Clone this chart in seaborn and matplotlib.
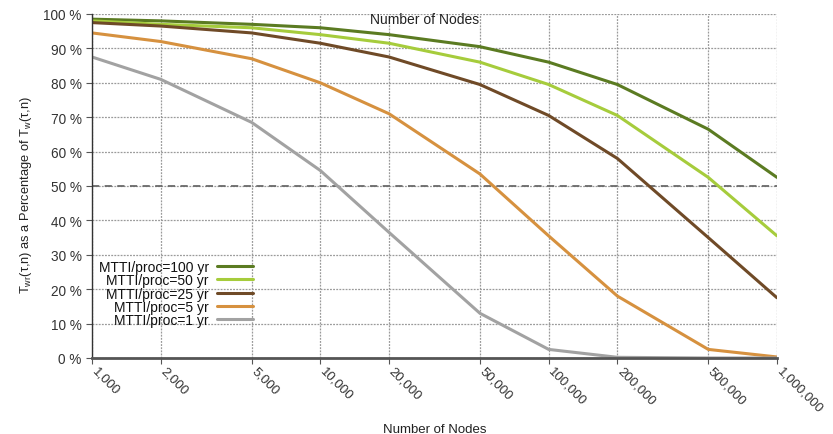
import matplotlib
matplotlib.use("Agg")
import matplotlib.pyplot as plt
import matplotlib.transforms as mtransforms
import seaborn as sns
import pandas as pd
import numpy as np
from matplotlib.ticker import FixedLocator, NullLocator

nodes = [1000, 2000, 5000, 10000, 20000, 50000, 100000, 200000, 500000, 1000000]
node_labels = ["1,000", "2,000", "5,000", "10,000", "20,000", "50,000",
               "100,000", "200,000", "500,000", "1,000,000"]
series_names = ["MTTI/proc=100 yr", "MTTI/proc=50 yr", "MTTI/proc=25 yr",
                "MTTI/proc=5 yr", "MTTI/proc=1 yr"]
mtti_100 = [98.5, 98.0, 97.0, 96.0, 94.0, 90.5, 86.0, 79.5, 66.5, 52.5]
mtti_50 = [98.0, 97.0, 96.0, 94.0, 91.5, 86.0, 79.5, 70.5, 52.5, 35.5]
mtti_25 = [97.5, 96.5, 94.5, 91.5, 87.5, 79.5, 70.5, 58.0, 35.0, 17.5]
mtti_5 = [94.5, 92.0, 87.0, 80.0, 71.0, 53.5, 35.5, 18.0, 2.5, 0.3]
mtti_1 = [87.5, 81.0, 68.5, 54.5, 36.5, 13.0, 2.5, 0.2, 0.0, 0.0]
y_ticks = [0, 10, 20, 30, 40, 50, 60, 70, 80, 90, 100]
y_tick_labels = ["%d %%" % v for v in y_ticks]

colors = ["#5b7b22", "#a6cc3c", "#6f4a27", "#d6913f", "#a2a2a2"]

rows = []
for name, vals in zip(series_names, [mtti_100, mtti_50, mtti_25, mtti_5, mtti_1]):
    for n, v in zip(nodes, vals):
        rows.append({"Nodes": n, "Pct": v, "Series": name})
df = pd.DataFrame(rows)

sns.set_style("white")
plt.rcParams["font.family"] = ["Liberation Sans", "DejaVu Sans"]

fig = plt.figure(figsize=(8.33, 4.35), dpi=100)
ax = fig.add_axes([92/833, 1-359/435, 685/833, 344/435])

sns.lineplot(data=df, x="Nodes", y="Pct", hue="Series", hue_order=series_names,
             palette=colors, linewidth=2.2, ax=ax, legend=True)

ax.set_xscale("log")
ax.set_xlim(1000, 1000000)
ax.set_ylim(0, 100)
ax.xaxis.set_major_locator(FixedLocator(nodes))
ax.xaxis.set_minor_locator(NullLocator())
ax.set_yticks(y_ticks)

ax.grid(True, which="major", linestyle=(0, (1.5, 1.0)), color="#9a9a9a", linewidth=0.9)
ax.set_axisbelow(True)
ax.axhline(50, color="#6a6a6a", linestyle=(0, (4, 3)), linewidth=1.3, zorder=1)

for s in ["top", "right"]:
    ax.spines[s].set_visible(False)
ax.spines["left"].set_color("#333333")
ax.spines["left"].set_linewidth(1.0)
ax.spines["bottom"].set_color("#555555")
ax.spines["bottom"].set_linewidth(2.0)
ax.tick_params(axis="both", which="major", direction="out", length=4, width=0.8,
               colors="#555555", left=True, bottom=True)
ax.tick_params(axis="both", labelcolor="#333333")

ax.set_xticklabels(node_labels, rotation=-45, ha="left", va="top",
                   rotation_mode="anchor", fontsize=9.5, color="#333333")
ax.set_yticklabels(y_tick_labels, fontsize=9.8, color="#333333")
offset = mtransforms.ScaledTranslation(6/100, 4/100, fig.dpi_scale_trans)
for lbl in ax.get_xticklabels():
    lbl.set_transform(lbl.get_transform() + offset)

ax.set_xlabel("Number of Nodes", fontsize=9.5, color="#222222")
ax.xaxis.set_label_coords(0.50, -0.188)
ax.set_ylabel(r"T$_{\mathregular{wr}}$($\mathregular{\tau}$,n) as a Percentage of T$_{\mathregular{w}}$($\mathregular{\tau}$,n)",
              fontsize=9.3, color="#222222")
ax.yaxis.set_label_coords(-0.085, 0.477)
ax.text(0.486, 0.985, "Number of Nodes", transform=ax.transAxes, ha="center",
        va="center", fontsize=10, color="#222222")

leg = ax.legend(loc="upper right", bbox_to_anchor=(0.2455, 0.305), frameon=False,
                markerfirst=False, fontsize=10, handlelength=2.6,
                labelspacing=-0.05, borderpad=0, handletextpad=0.6)
for t in leg.get_texts():
    t.set_color("#111111")

fig.savefig("out.png", dpi=100)
